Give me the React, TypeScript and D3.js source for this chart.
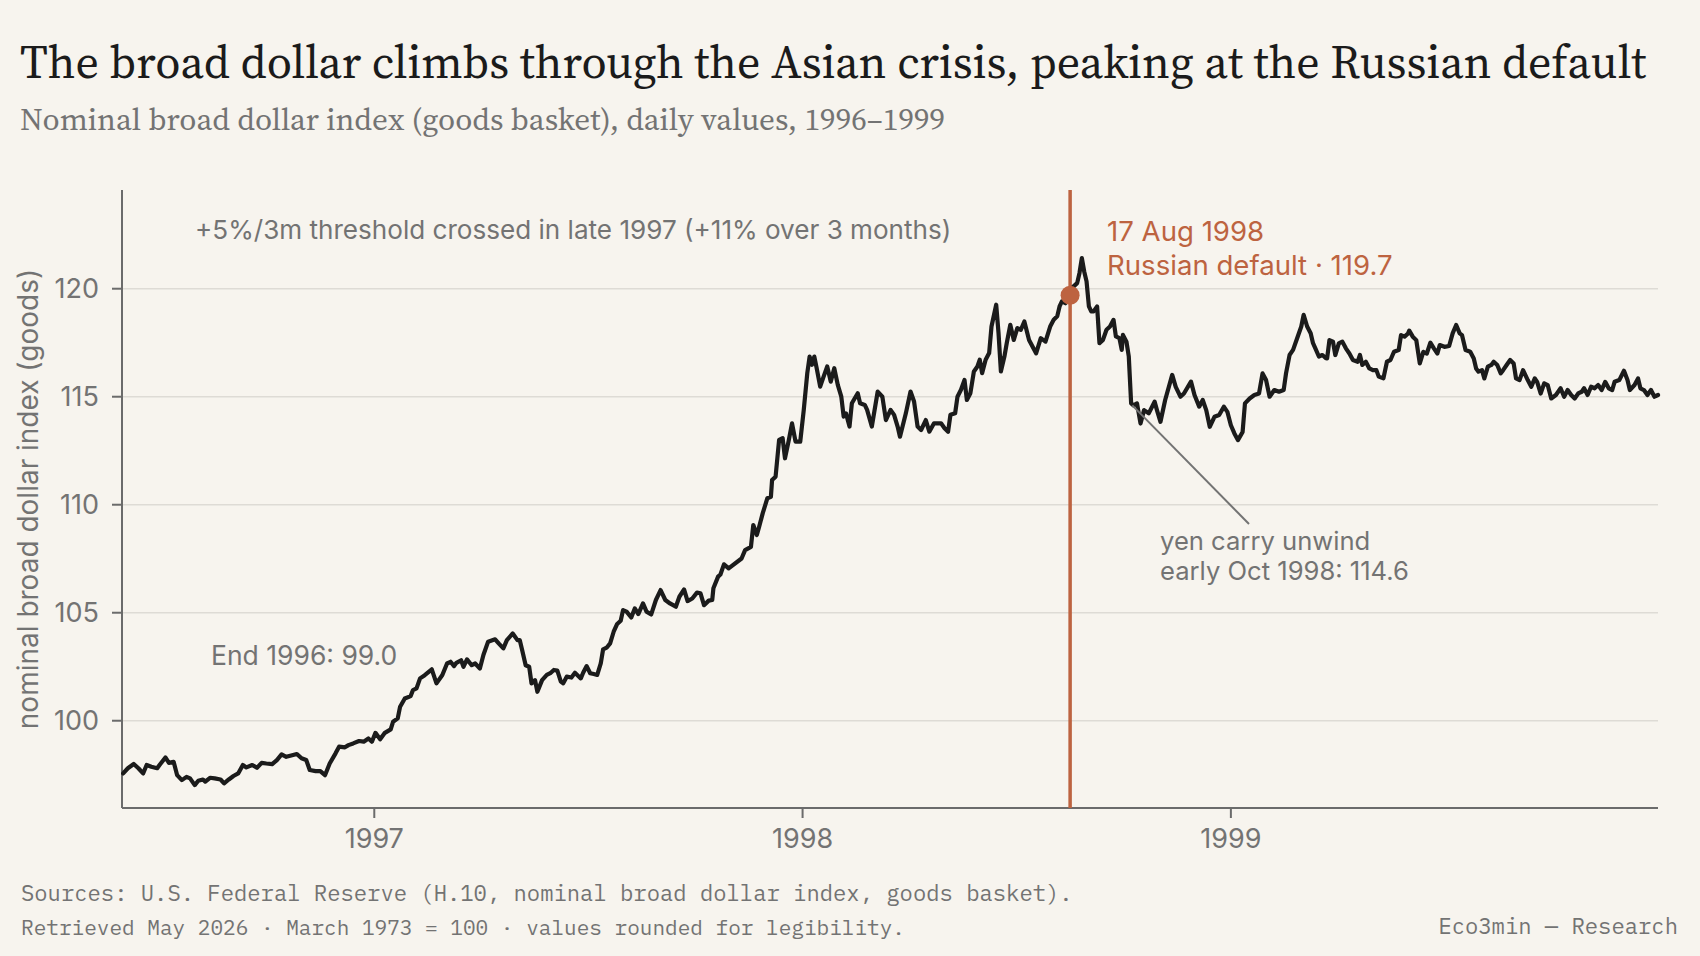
import React, { useEffect } from "react";
import * as d3 from "d3";

// ---- data ----
const START_DATE = "1996-05-31";
const END_DATE = "1999-12-31";

// day offsets from START_DATE
const dayOffsets = [
  1, 5, 10, 14, 18, 21, 25, 30, 32, 37, 40, 44, 47, 51, 55, 58, 62, 65, 69, 71, 75, 79, 84, 87, 91, 95, 99, 103, 106, 111, 115, 119, 123, 128, 132, 136, 140, 145, 149, 153, 157, 160, 165, 169, 173, 177, 182, 185, 190, 193, 197, 202, 206, 210, 213, 216, 220, 224, 229, 231, 235, 237, 241, 246, 248, 251, 254, 258,
  264, 268, 273, 277, 280, 283, 285, 289, 291, 294, 298, 301, 305, 308, 312, 318, 321, 325, 328, 333, 337, 339, 341, 344, 347, 349, 352, 354, 358, 362, 365, 368, 371, 374, 376, 379, 383, 386, 391, 393, 396, 399, 402, 405, 408, 410, 413, 416, 419, 422, 425, 427, 430, 434, 437, 440, 444, 447, 451, 455, 459, 463, 467, 472, 475, 479, 482, 486, 490, 493, 496, 500, 503, 504, 508, 510, 513, 517,
  528, 531, 536, 538, 541, 543, 546, 550, 553, 554, 557, 560, 563, 565, 568, 571, 574, 578, 581, 584, 586, 588, 590, 592, 595, 598, 601, 604, 607, 610, 613, 615, 617, 620, 622, 627, 629, 633, 635, 639, 644, 648, 651, 655, 658, 661, 663, 668, 672, 675, 678, 681, 685, 688, 692, 698, 701, 704, 706, 710, 712, 715, 718, 720, 723, 726, 729, 731, 733, 736, 739, 741, 745, 747, 749, 752, 754, 757, 760, 763,
  766, 769, 773, 779, 783, 787, 791, 794, 797, 799, 801, 804, 807, 811, 814, 816, 818, 820, 822, 824, 826, 828, 831, 833, 836, 839, 842, 845, 847, 850, 852, 853, 856, 858, 860, 862, 865, 868, 871, 875, 880, 882, 885, 889, 895, 898, 902, 905, 911, 914, 918, 921, 924, 927, 931, 935, 939, 942, 945, 948, 951, 955, 957, 961, 965, 969, 972, 975, 978, 982, 986, 990, 992, 995, 998, 1002, 1005, 1007, 1010, 1013, 1015, 1017, 1020, 1023, 1026,
  1027, 1029, 1032, 1034, 1037, 1040, 1043, 1046, 1049, 1053, 1055, 1057, 1060, 1063, 1066, 1069, 1071, 1075, 1078, 1081, 1084, 1088, 1090, 1093, 1096, 1097, 1100, 1103, 1106, 1109, 1112, 1115, 1118, 1121, 1123, 1127, 1131, 1134, 1137, 1140, 1142, 1145, 1149, 1152, 1154, 1156, 1159, 1161, 1164, 1167, 1169, 1172, 1175, 1177, 1180, 1183, 1186, 1188, 1191, 1194, 1196, 1198, 1201, 1204, 1206, 1209, 1212, 1215, 1218, 1222, 1226, 1229, 1232, 1235, 1238, 1241, 1244, 1246, 1249, 1252, 1255, 1258, 1261, 1264, 1267, 1270, 1272, 1276, 1280, 1283, 1285, 1289, 1292, 1294, 1297, 1300, 1303, 1306, 1309,
];

const broadDollar = [
  97.56, 97.8, 98.0, 97.8, 97.56, 97.95, 97.87, 97.8, 97.95, 98.3, 98.05, 98.1, 97.48, 97.25, 97.4, 97.33, 97.02, 97.22, 97.28, 97.18, 97.36, 97.33, 97.28, 97.1, 97.28, 97.44, 97.56, 97.95, 97.84, 97.95, 97.82, 98.05, 98.02, 97.99, 98.18, 98.44, 98.33, 98.4, 98.46, 98.26, 98.18, 97.72, 97.67, 97.67, 97.48, 98.02, 98.49, 98.8, 98.77, 98.87, 98.95, 99.06, 99.03, 99.18, 99.03, 99.44, 99.14, 99.44, 99.6, 99.95, 100.11, 100.65, 101.03, 101.14, 101.42, 101.5, 101.96, 102.11,
  102.38, 101.73, 102.12, 102.65, 102.73, 102.53, 102.68, 102.8, 102.5, 102.84, 102.57, 102.65, 102.42, 103.04, 103.66, 103.77, 103.58, 103.35, 103.73, 104.04, 103.73, 103.73, 103.27, 102.57, 102.5, 101.73, 101.88, 101.34, 101.88, 102.12, 102.2, 102.35, 102.32, 101.81, 101.73, 102.04, 102.0, 102.22, 101.96, 102.22, 102.53, 102.2, 102.16, 102.12, 102.65, 103.3, 103.38, 103.58, 104.12, 104.48, 104.63, 105.12, 105.05, 104.78, 105.2, 104.94, 105.43, 105.05, 104.92, 105.59, 106.05, 105.59, 105.43, 105.28, 105.74, 106.08, 105.54, 105.66, 105.93, 105.9, 105.35, 105.56, 105.59, 106.13, 106.67, 106.77, 107.24, 107.05,
  107.51, 107.9, 108.05, 109.06, 108.6, 108.98, 109.6, 110.3, 110.37, 111.14, 111.3, 113.0, 113.08, 112.15, 112.92, 113.77, 112.92, 112.92, 114.39, 116.09, 116.86, 116.48, 116.86, 116.32, 115.47, 115.94, 116.4, 115.7, 116.32, 115.55, 115.0, 114.08, 114.23, 113.62, 114.7, 115.16, 114.7, 114.62, 114.39, 113.62, 115.24, 115.0, 113.92, 114.39, 114.16, 113.62, 113.15, 114.23, 115.24, 114.78, 113.62, 113.46, 113.92, 113.38, 113.77, 113.77, 113.54, 113.38, 114.16, 114.23, 115.0, 115.32, 115.78, 114.85, 115.16, 116.17, 116.4, 116.71, 116.09, 116.71, 117.02, 118.25, 119.26, 117.94, 116.17, 116.86, 117.48, 118.33, 117.63, 118.18,
  118.1, 118.48, 117.63, 117.01, 117.71, 117.55, 118.25, 118.56, 118.72, 119.18, 119.41, 119.33, 119.7, 120.11, 120.26, 120.73, 121.42, 120.8, 120.34, 119.18, 118.95, 118.95, 119.18, 117.48, 117.63, 118.1, 118.25, 118.56, 117.79, 117.71, 117.17, 117.86, 117.55, 116.86, 114.69, 114.6, 114.69, 113.76, 114.38, 114.23, 114.77, 114.38, 113.84, 114.85, 116.01, 115.46, 115.0, 115.15, 115.7, 115.08, 114.54, 114.85, 114.38, 113.61, 114.07, 114.15, 114.54, 114.3, 113.68, 113.3, 112.99, 113.37, 114.69, 114.92, 115.08, 115.15, 116.08, 115.77, 115.0, 115.31, 115.23, 115.31, 116.08, 116.93, 117.17, 117.79, 118.25, 118.79, 118.25, 117.94, 117.48, 117.24, 116.86, 116.93, 116.78,
  116.77, 117.62, 117.55, 116.93, 117.47, 117.55, 117.24, 117.0, 116.7, 116.62, 116.93, 116.47, 116.62, 116.31, 116.23, 116.23, 115.93, 115.85, 116.62, 116.7, 117.08, 117.16, 117.85, 117.78, 117.93, 118.06, 117.78, 117.62, 116.54, 117.08, 117.0, 117.5, 117.24, 117.0, 117.39, 117.31, 117.35, 117.93, 118.32, 117.93, 117.85, 117.16, 117.08, 116.77, 116.31, 116.16, 116.23, 115.85, 116.39, 116.47, 116.62, 116.47, 116.08, 116.23, 116.47, 116.7, 116.54, 115.85, 115.77, 116.23, 116.0, 115.77, 115.46, 115.85, 115.69, 115.15, 115.62, 115.54, 114.92, 115.08, 115.39, 115.0, 115.31, 115.08, 114.92, 115.15, 115.23, 115.39, 115.08, 115.46, 115.39, 115.54, 115.31, 115.69, 115.39, 115.31, 115.69, 115.77, 116.2, 115.77, 115.31, 115.54, 115.85, 115.39, 115.31, 115.08, 115.31, 115.0, 115.08,
];

const yTicks = [100, 105, 110, 115, 120];
const xTickYears = [1997, 1998, 1999];
const yDomain = [95.96, 124.57];

const eventDate = "1998-08-17";
const eventValue = 119.7;
const carryDate = "1998-10-09";
const carryValue = 114.6;

const TITLE = "The broad dollar climbs through the Asian crisis, peaking at the Russian default";
const SUBTITLE = "Nominal broad dollar index (goods basket), daily values, 1996\u20131999";
const Y_LABEL = "nominal broad dollar index (goods)";
const THRESHOLD_NOTE = "+5%/3m threshold crossed in late 1997 (+11% over 3 months)";
const END96_NOTE = "End 1996: 99.0";
const EVENT_LINES = ["17 Aug 1998", "Russian default \u00b7 119.7"];
const CARRY_LINES = ["yen carry unwind", "early Oct 1998: 114.6"];
const SOURCE_LINE = "Sources: U.S. Federal Reserve (H.10, nominal broad dollar index, goods basket).";
const RETRIEVED_LINE = "Retrieved May 2026 \u00b7 March 1973 = 100 \u00b7 values rounded for legibility.";
const BRAND = "Eco3min \u2014 Research";

// ---- styling ----
const W = 1700;
const H = 956;
const M = { left: 122, right: 1658, top: 190, bottom: 808 };
const BG = "#f7f4ee";
const INK = "#1b1b1b";
const GREY = "#737373";
const AXIS = "#6b6b6b";
const GRID = "#dedbd5";
const RUST = "#bd6340";
const SANS = "Inter, 'Noto Sans', sans-serif";
const SERIF = "'Source Serif 4', 'Source Serif Pro', 'Liberation Serif', serif";
const MONO = "'IBM Plex Mono', 'DejaVu Sans Mono', monospace";

const parse = d3.timeParse("%Y-%m-%d");

export default function App() {
  useEffect(() => {
    document.body.style.margin = "0";
    document.body.style.background = BG;
  }, []);

  const start = parse(START_DATE) as Date;
  const end = parse(END_DATE) as Date;
  const series = dayOffsets.map((d, i) => ({ date: d3.timeDay.offset(start, d), value: broadDollar[i] }));

  const x = d3.scaleTime().domain([start, end]).range([M.left, M.right]);
  const y = d3.scaleLinear().domain(yDomain).range([M.bottom, M.top]);

  const line = d3
    .line<{ date: Date; value: number }>()
    .x((d) => x(d.date))
    .y((d) => y(d.value));

  const evX = x(parse(eventDate) as Date);
  const evY = y(eventValue);
  const cX = x(parse(carryDate) as Date);
  const cY = y(carryValue);

  return (
    <svg width={W} height={H} style={{ display: "block", position: "absolute", left: 0, top: 0, background: BG }}>
      <rect x={0} y={0} width={W} height={H} fill={BG} />
      <text x={20} y={78} fontFamily={SERIF} fontSize={46} fill={INK}>{TITLE}</text>
      <text x={20} y={130} fontFamily={SERIF} fontSize={31.2} fill={GREY}>{SUBTITLE}</text>

      {/* grid */}
      {yTicks.map((t) => (
        <line key={"g" + t} x1={M.left} x2={M.right} y1={y(t)} y2={y(t)} stroke={GRID} strokeWidth={1.5} />
      ))}

      {/* y axis */}
      <line x1={M.left} x2={M.left} y1={M.top} y2={M.bottom} stroke={AXIS} strokeWidth={2} />
      {yTicks.map((t) => (
        <g key={"yt" + t}>
          <line x1={M.left - 10} x2={M.left} y1={y(t)} y2={y(t)} stroke={AXIS} strokeWidth={2} />
          <text x={M.left - 23} y={y(t)} dy="0.35em" textAnchor="end" fontFamily={SANS} fontSize={27} fill={GREY}>{t}</text>
        </g>
      ))}
      <text transform={`translate(38,${(M.top + M.bottom) / 2}) rotate(-90)`} textAnchor="middle" fontFamily={SANS} fontSize={28} fill={GREY}>{Y_LABEL}</text>

      {/* x axis */}
      <line x1={M.left} x2={M.right} y1={M.bottom} y2={M.bottom} stroke={AXIS} strokeWidth={2} />
      {xTickYears.map((yr) => {
        const xx = x(new Date(yr, 0, 1));
        return (
          <g key={"xt" + yr}>
            <line x1={xx} x2={xx} y1={M.bottom} y2={M.bottom + 10} stroke={AXIS} strokeWidth={2} />
            <text x={xx} y={848} textAnchor="middle" fontFamily={SANS} fontSize={27} fill={GREY}>{yr}</text>
          </g>
        );
      })}

      {/* event line */}
      <line x1={evX} x2={evX} y1={M.top} y2={M.bottom} stroke={RUST} strokeWidth={3.5} />

      {/* series */}
      <path d={line(series) || ""} fill="none" stroke={INK} strokeWidth={4.2} strokeLinejoin="round" strokeLinecap="round" />

      <circle cx={evX} cy={evY} r={9.5} fill={RUST} />

      {/* annotations */}
      <text x={195} y={239} fontFamily={SANS} fontSize={26.1} fill={GREY}>{THRESHOLD_NOTE}</text>
      <text x={211} y={665} fontFamily={SANS} fontSize={26.5} fill={GREY}>{END96_NOTE}</text>
      {EVENT_LINES.map((s, i) => (
        <text key={"ev" + i} x={1107} y={241 + i * 34} fontFamily={SANS} fontSize={27.6} fill={RUST}>{s}</text>
      ))}
      <line x1={cX} y1={cY} x2={1249} y2={524} stroke={GREY} strokeWidth={2} />
      {CARRY_LINES.map((s, i) => (
        <text key={"cy" + i} x={1160} y={550 + i * 30} fontFamily={SANS} fontSize={25.6} fill={GREY}>{s}</text>
      ))}

      {/* footer */}
      <text x={21} y={901} fontFamily={MONO} fontSize={22.2} fill={GREY}>{SOURCE_LINE}</text>
      <text x={21} y={935} fontFamily={MONO} fontSize={21.05} fill={GREY}>{RETRIEVED_LINE}</text>
      <text x={1678} y={934} textAnchor="end" fontFamily={MONO} fontSize={22.2} fill={GREY}>{BRAND}</text>
    </svg>
  );
}
